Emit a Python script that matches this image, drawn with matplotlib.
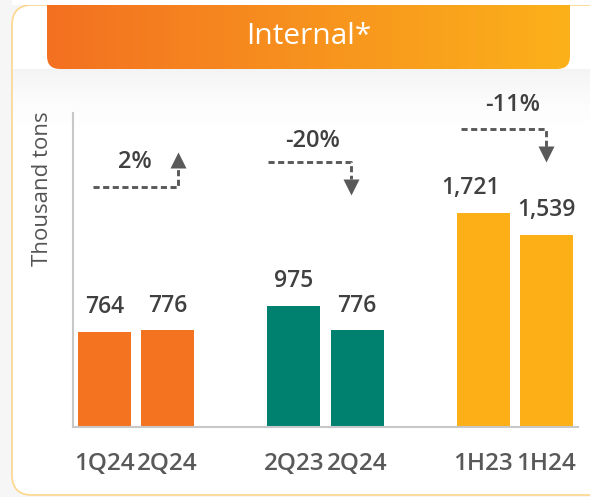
import numpy as np
import matplotlib
matplotlib.use("Agg")
import matplotlib.pyplot as plt
from matplotlib.patches import FancyBboxPatch, Rectangle
from matplotlib.colors import LinearSegmentedColormap

# ---------------- data ----------------
categories = ["1Q24", "2Q24", "2Q23", "2Q24", "1H23", "1H24"]
values = [764, 776, 975, 776, 1721, 1539]
value_labels = ["764", "776", "975", "776", "1,721", "1,539"]
group_colors = ["#F47321", "#00806F", "#FCAF17"]
changes = ["2%", "-20%", "-11%"]
directions = ["up", "down", "down"]
title = "Internal*"
ylabel = "Thousand tons"

plt.rcParams['font.family'] = ['Open Sans', 'DejaVu Sans']

W, H = 590, 497
fig = plt.figure(figsize=(W / 100, H / 100), dpi=100)
fig.patch.set_facecolor("#f6f6f6")

# ---------------- background / card / header ----------------
bg = fig.add_axes([0, 0, 1, 1], zorder=0)
bg.axis('off')
card = FancyBboxPatch((12, 5), 600, 490, boxstyle="round,pad=0,rounding_size=20",
                      fc="white", ec="#FDD68C", lw=1.2, zorder=0)
bg.add_patch(card)

# soft shadow under header
n = 80
alpha = (np.linspace(1, 0, n) ** 1.8) * 0.08
img = np.zeros((n, 1, 4))
img[..., :3] = 0.45
img[..., 3] = alpha[:, None]
bg.imshow(img, extent=[13, 590, 140, 69], aspect='auto', interpolation='bilinear', zorder=1)

cmap = LinearSegmentedColormap.from_list('hdr', ['#F37021', '#F7921E', '#FCB11A'])
grad = np.linspace(0, 1, 256)[None, :]
hdr_box = FancyBboxPatch((47, -20), 523, 89, boxstyle="round,pad=0,rounding_size=13",
                         fc='none', ec='none', zorder=2)
bg.add_patch(hdr_box)
im = bg.imshow(grad, cmap=cmap, extent=[47, 570, 69, -20], aspect='auto', zorder=2)
im.set_clip_path(hdr_box)
bg.text(309, 36, title, color='white', fontsize=21.5, ha='center', va='center', zorder=3)
bg.add_patch(Rectangle((12, -5), 600, 10, fc='white', ec='none', zorder=4))
bg.set_xlim(0, W)
bg.set_ylim(H, 0)

# ---------------- main chart ----------------
ax = fig.add_axes([73 / W, (H - 427) / H, (578 - 73) / W, (427 - 113) / H], zorder=2)
ax.set_facecolor('none')
xpos = [0, 1, 3, 4, 6, 7]
colors = [group_colors[i // 2] for i in range(len(values))]
bars = ax.bar(xpos, values, width=0.84, color=colors, zorder=2)
ax.set_xlim(-0.5, 7.5)
ax.set_ylim(0, 2520)

label_dx = [0, 0, 0, 0, -9, 0]  # points
for b, lab, dx in zip(bars, value_labels, label_dx):
    ax.annotate(lab, (b.get_x() + b.get_width() / 2, b.get_height()),
                xytext=(dx, 13.5), textcoords='offset points', ha='center', va='baseline',
                fontsize=16.5, color='#404040', fontweight='semibold')

ax.set_xticks(xpos, categories)
ax.tick_params(axis='x', length=0, pad=18, labelsize=17.5, labelcolor='#595959')
for t in ax.get_xticklabels():
    t.set_fontweight('semibold')
ax.set_yticks([])
for s in ['top', 'right']:
    ax.spines[s].set_visible(False)
for s in ['left', 'bottom']:
    ax.spines[s].set_color('#c8c8c8')
    ax.spines[s].set_linewidth(1.5)

fig.text(43 / W, 1 - 189 / H, ylabel, rotation=90, ha='center', va='center',
         fontsize=16, color='#555555')

# ---------------- change annotations ----------------
line_y = [1930, 2130, 2394]
line_x0 = [-0.18, 2.59, 5.65]
line_x1 = [1.16, 3.90, 6.99]
head_base = [2082, 1994, 2250]
head_tip = [2202, 1866, 2130]
text_xy = [(0.48, 2130), (3.30, 2294), (6.47, 2586)]
acol = '#595959'
for i in range(3):
    ax.plot([line_x0[i], line_x1[i], line_x1[i]], [line_y[i], line_y[i], head_base[i]],
            color=acol, lw=2.1, dashes=(2.1, 1.2), solid_capstyle='butt', clip_on=False, zorder=3)
    mk = '^' if directions[i] == 'up' else 'v'
    ax.plot([line_x1[i]], [(head_base[i] + head_tip[i]) / 2], marker=mk, ms=11,
            color=acol, mec='none', clip_on=False, zorder=3)
    ax.text(text_xy[i][0], text_xy[i][1], changes[i], ha='center', va='center',
            fontsize=17, color='#404040', fontweight='semibold')

fig.savefig("out.png", dpi=100, facecolor=fig.get_facecolor())
